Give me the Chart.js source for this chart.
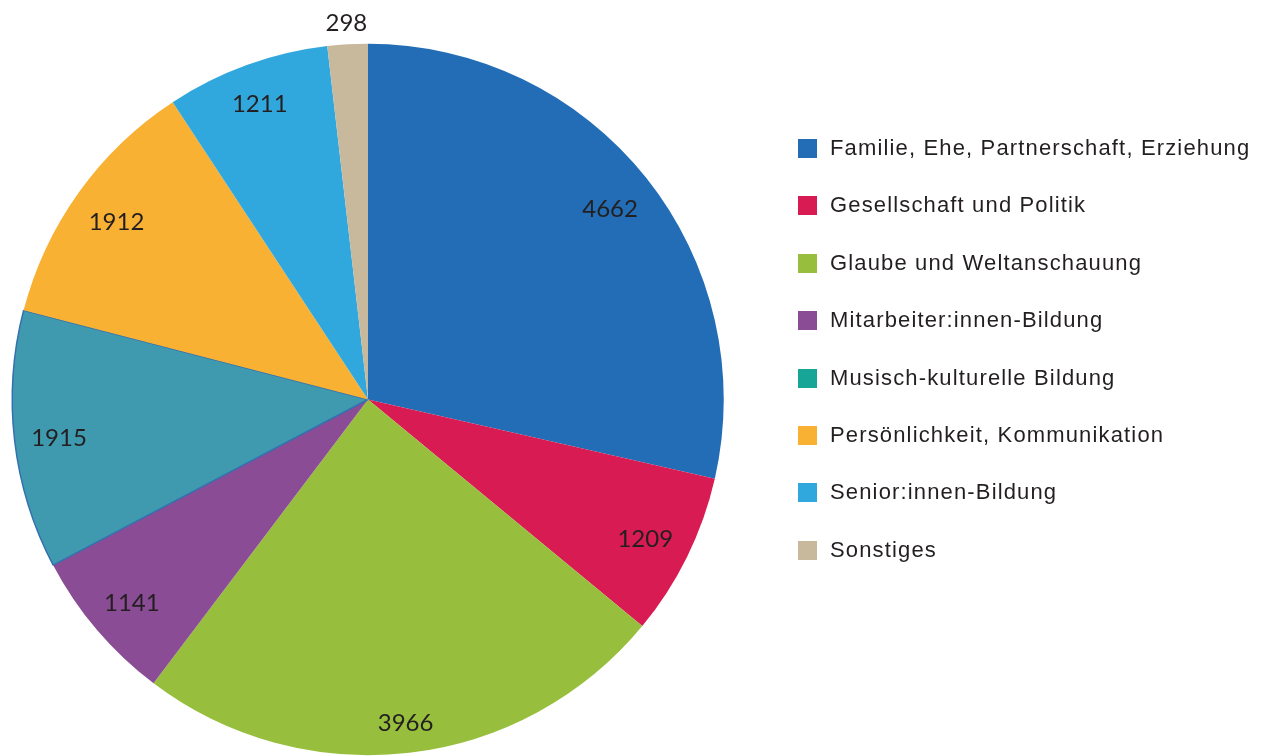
<!DOCTYPE html>
<html>
<head>
<meta charset="utf-8">
<script src="https://cdn.jsdelivr.net/npm/chart.js"></script>
<style>
    html, body { margin: 0; padding: 0; background: #fff; }
    #wrap { position: relative; width: 1267px; height: 756px; }
    #pie { position: absolute; left: 0; top: 0; }
    #legend { position: absolute; left: 798px; top: 130px; margin: 0; padding: 0; list-style: none;
        font-family: "Liberation Sans", Arial, sans-serif; font-size: 22px; color: #231f20; letter-spacing: 1.15px; }
    #legend li { height: 57.4px; display: flex; align-items: flex-start; }
    #legend span.box { width: 19px; height: 19px; margin-top: 9px; margin-right: 13px; flex: none; }
    #legend span.txt { line-height: 36px; white-space: nowrap; }
</style>
</head>
<body>
<div id="wrap">
    <canvas id="pie" width="1267" height="756"></canvas>
    <ul id="legend"></ul>
</div>
<script>
const categories = [
    'Familie, Ehe, Partnerschaft, Erziehung',
    'Gesellschaft und Politik',
    'Glaube und Weltanschauung',
    'Mitarbeiter:innen-Bildung',
    'Musisch-kulturelle Bildung',
    'Persönlichkeit, Kommunikation',
    'Senior:innen-Bildung',
    'Sonstiges'
];
const values = [4662, 1209, 3966, 1141, 1915, 1912, 1211, 298];
const sliceColors = ['#226db5', '#d81b52', '#97bf3d', '#8a4c94', '#3f9ab0', '#f8b133', '#31a8dd', '#c8b89c'];
const legendColors = ['#226db5', '#d81b52', '#97bf3d', '#8a4c94', '#16a596', '#f8b133', '#31a8dd', '#c8b89c'];

// values written on the slices ("inside end"), small slices get the label outside
const sliceLabels = {
    id: 'sliceLabels',
    afterDatasetsDraw(chart) {
        const ctx = chart.ctx;
        const meta = chart.getDatasetMeta(0);
        const total = values.reduce((a, b) => a + b, 0);
        ctx.save();
        ctx.font = '24px Lato, "Open Sans", sans-serif';
        ctx.fillStyle = '#231f20';
        ctx.textAlign = 'center';
        ctx.textBaseline = 'middle';
        meta.data.forEach((arc, i) => {
            const mid = (arc.startAngle + arc.endAngle) / 2;
            const cos = Math.cos(mid), sin = Math.sin(mid);
            const txt = String(values[i]);
            let d, dy = 0;
            if (values[i] / total < 0.03) {
                d = arc.outerRadius * 1.06;
            } else {
                // push the label box out until its far corner touches R - 12
                const w = ctx.measureText(txt).width / 2 + 3, h = 16;
                const rt = arc.outerRadius - 12;
                const b = Math.abs(cos) * w + Math.abs(sin) * h;
                d = -b + Math.sqrt(b * b - (w * w + h * h - rt * rt));
                dy = 3;
            }
            ctx.fillText(txt, arc.x + cos * d, arc.y + sin * d + dy);
        });
        ctx.restore();
    }
};

new Chart(document.getElementById('pie').getContext('2d'), {
    type: 'pie',
    data: {
        labels: categories,
        datasets: [{
            data: values,
            backgroundColor: sliceColors,
            borderColor: ['#226db5', '#d81b52', '#97bf3d', '#8a4c94', '#3470ae', '#f8b133', '#31a8dd', '#c8b89c'],
            borderWidth: [0, 0, 0, 0, 1.5, 0, 0, 0]
        }]
    },
    options: {
        responsive: false,
        animation: false,
        layout: { padding: { left: 11, right: 542, top: 43, bottom: 0 } },
        plugins: {
            legend: { display: false },
            tooltip: { enabled: false }
        }
    },
    plugins: [sliceLabels]
});

const legend = document.getElementById('legend');
categories.forEach((name, i) => {
    const li = document.createElement('li');
    li.innerHTML = '<span class="box" style="background:' + legendColors[i] + '"></span><span class="txt">' + name + '</span>';
    legend.appendChild(li);
});
</script>
</body>
</html>
